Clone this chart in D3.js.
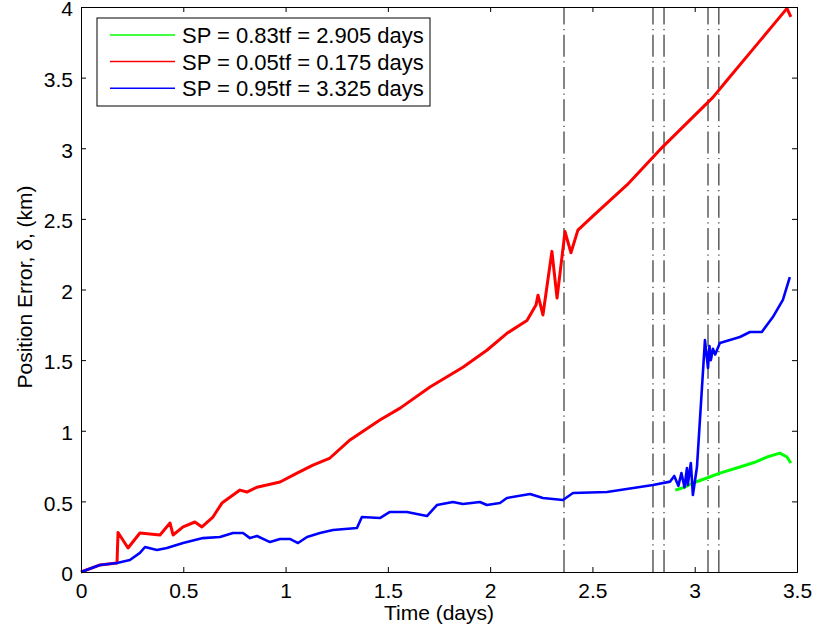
<!DOCTYPE html>
<html>
<head>
<meta charset="utf-8">
<script src="https://cdn.jsdelivr.net/npm/d3@7"></script>
<style>
  body { margin: 0; background: #fff; }
  svg { display: block; font-family: "Liberation Sans", Arial, sans-serif; }
</style>
</head>
<body>
<div id="chart"></div>
<script>
  const width = 815
  const height = 635
  const margin = {top: 7, right: 18, bottom: 63, left: 81}
  const fontSize = 21

  // legend labels (drawing order: green, red, blue)
  const seriesNames = [
    'SP = 0.83tf = 2.905 days',
    'SP = 0.05tf = 0.175 days',
    'SP = 0.95tf = 3.325 days'
  ]
  const seriesColors = ['#00ff00', '#ff0000', '#0000ff']

  const xTicks = [0, 0.5, 1, 1.5, 2, 2.5, 3, 3.5]
  const yTicks = [0, 0.5, 1, 1.5, 2, 2.5, 3, 3.5, 4]

  // dash-dot markers (days)
  const markerTimes = [2.361, 2.796, 2.85, 3.065, 3.118]

  // SP = 0.83tf (only visible after switch point)
  const greenT = [2.905, 2.95, 2.991, 3.05, 3.123, 3.221, 3.29, 3.353, 3.416, 3.451, 3.47]
  const greenV = [0.58, 0.60, 0.63, 0.66, 0.70, 0.743, 0.775, 0.814, 0.842, 0.814, 0.772]

  // SP = 0.05tf
  const redT = [0, 0.093, 0.176, 0.181, 0.23, 0.288, 0.386, 0.435, 0.45, 0.499, 0.557, 0.591, 0.645,
    0.689, 0.777, 0.811, 0.86, 0.973, 1.056, 1.134, 1.217, 1.315, 1.461, 1.56, 1.706, 1.867, 1.984,
    2.082, 2.18, 2.224, 2.234, 2.258, 2.302, 2.327, 2.366, 2.395, 2.429, 2.502, 2.669, 2.83, 2.991,
    3.089, 3.157, 3.284, 3.382, 3.451, 3.47]
  const redV = [0, 0.05, 0.064, 0.28, 0.17, 0.276, 0.262, 0.347, 0.262, 0.319, 0.354, 0.319, 0.389,
    0.488, 0.58, 0.566, 0.60, 0.637, 0.70, 0.757, 0.807, 0.935, 1.076, 1.16, 1.31, 1.45, 1.57,
    1.69, 1.78, 1.89, 1.96, 1.82, 2.27, 1.94, 2.41, 2.26, 2.42, 2.52, 2.74, 2.99, 3.22,
    3.36, 3.48, 3.70, 3.87, 3.99, 3.93]

  // SP = 0.95tf
  const blueT = [0, 0.093, 0.176, 0.239, 0.288, 0.313, 0.371, 0.42, 0.499, 0.596, 0.679, 0.743, 0.792,
    0.826, 0.86, 0.924, 0.973, 1.021, 1.061, 1.105, 1.168, 1.232, 1.349, 1.373, 1.461, 1.51, 1.593,
    1.691, 1.74, 1.818, 1.867, 1.95, 1.984, 2.048, 2.082, 2.195, 2.258, 2.356, 2.405, 2.571, 2.732,
    2.796, 2.88, 2.9, 2.92, 2.935, 2.95, 2.962, 2.966, 2.981, 2.991, 3.011, 3.05, 3.065, 3.072, 3.079,
    3.089, 3.1, 3.123, 3.221, 3.27, 3.328, 3.382, 3.431, 3.465]
  const blueV = [0, 0.05, 0.064, 0.085, 0.135, 0.177, 0.156, 0.17, 0.205, 0.24, 0.248, 0.276, 0.276,
    0.24, 0.255, 0.212, 0.234, 0.234, 0.205, 0.248, 0.276, 0.297, 0.312, 0.389, 0.382, 0.425, 0.425,
    0.396, 0.474, 0.496, 0.481, 0.496, 0.474, 0.488, 0.524, 0.552, 0.524, 0.51, 0.559, 0.566, 0.602,
    0.616, 0.64, 0.68, 0.61, 0.70, 0.60, 0.736, 0.616, 0.772, 0.545, 0.743, 1.642, 1.444, 1.60, 1.50,
    1.58, 1.54, 1.621, 1.664, 1.699, 1.699, 1.805, 1.926, 2.088]

  const series = [
    {t: greenT, v: greenV, color: seriesColors[0], width: 3},
    {t: redT, v: redV, color: seriesColors[1], width: 3},
    {t: blueT, v: blueV, color: seriesColors[2], width: 2.6}
  ]

  const x = d3.scaleLinear().domain([0, 3.5]).range([margin.left, width - margin.right])
  const y = d3.scaleLinear().domain([0, 4]).range([height - margin.bottom, margin.top])

  const svg = d3.select('#chart').append('svg')
      .attr('width', width)
      .attr('height', height)

  // dash-dot markers
  svg.append('g')
    .selectAll('line')
    .data(markerTimes)
    .enter().append('line')
      .attr('x1', d => x(d)).attr('x2', d => x(d))
      .attr('y1', y(0)).attr('y2', y(4))
      .attr('stroke', '#333')
      .attr('stroke-width', 1.2)
      .attr('stroke-dasharray', '22,4.5,1.2,4.5')

  const line = d3.line()
      .x(d => x(d[0]))
      .y(d => y(d[1]))

  svg.append('g')
      .attr('fill', 'none')
      .attr('stroke-linejoin', 'round')
    .selectAll('path')
    .data(series)
    .enter().append('path')
      .attr('stroke', d => d.color)
      .attr('stroke-width', d => d.width)
      .attr('d', d => line(d.t.map((t, i) => [t, d.v[i]])))

  // axes (MATLAB style box with inward ticks)
  const tickLen = 5
  const xb = svg.append('g').attr('transform', `translate(0,${y(0)})`)
      .call(d3.axisBottom(x).tickValues(xTicks).tickSize(-tickLen).tickPadding(11).tickFormat(d3.format('')))
  const xt = svg.append('g').attr('transform', `translate(0,${y(4)})`)
      .call(d3.axisTop(x).tickValues(xTicks).tickSize(-tickLen).tickFormat(''))
  const yl = svg.append('g').attr('transform', `translate(${x(0)},0)`)
      .call(d3.axisLeft(y).tickValues(yTicks).tickSize(-tickLen).tickPadding(8).tickFormat(d3.format('')))
  const yr = svg.append('g').attr('transform', `translate(${x(3.5)},0)`)
      .call(d3.axisRight(y).tickValues(yTicks).tickSize(-tickLen).tickFormat(''))

  ;[xb, xt, yl, yr].forEach(g => {
    g.select('.domain').attr('stroke', '#000').attr('stroke-width', 1)
    g.selectAll('.tick line').attr('stroke', '#000')
    g.selectAll('text').attr('font-size', fontSize).attr('fill', '#000')
        .attr('font-family', '"Liberation Sans", Arial, sans-serif')
  })
  yl.selectAll('.tick text').attr('dy', '0.42em')

  svg.append('text')
      .attr('x', (x(0) + x(3.5)) / 2)
      .attr('y', 620)
      .attr('text-anchor', 'middle')
      .attr('font-size', fontSize)
      .text('Time (days)')

  svg.append('text')
      .attr('transform', `translate(32,287) rotate(-90)`)
      .attr('text-anchor', 'middle')
      .attr('font-size', fontSize)
      .text('Position Error, δ, (km)')

  // legend
  const legend = svg.append('g').attr('transform', 'translate(97,18)')
  legend.append('rect')
      .attr('width', 333).attr('height', 88)
      .attr('fill', '#fff').attr('stroke', '#000').attr('stroke-width', 1)

  const rows = legend.selectAll('g.row')
    .data(series.map((s, i) => ({name: seriesNames[i], color: s.color})))
    .enter().append('g')
      .attr('class', 'row')
      .attr('transform', (d, i) => `translate(0,${17 + i * 26.6})`)
  rows.append('line')
      .attr('x1', 13).attr('x2', 78)
      .attr('stroke', d => d.color)
      .attr('stroke-width', 1.5)
  rows.append('text')
      .attr('x', 85)
      .attr('y', 8)
      .attr('font-size', 22)
      .text(d => d.name)
</script>
</body>
</html>
